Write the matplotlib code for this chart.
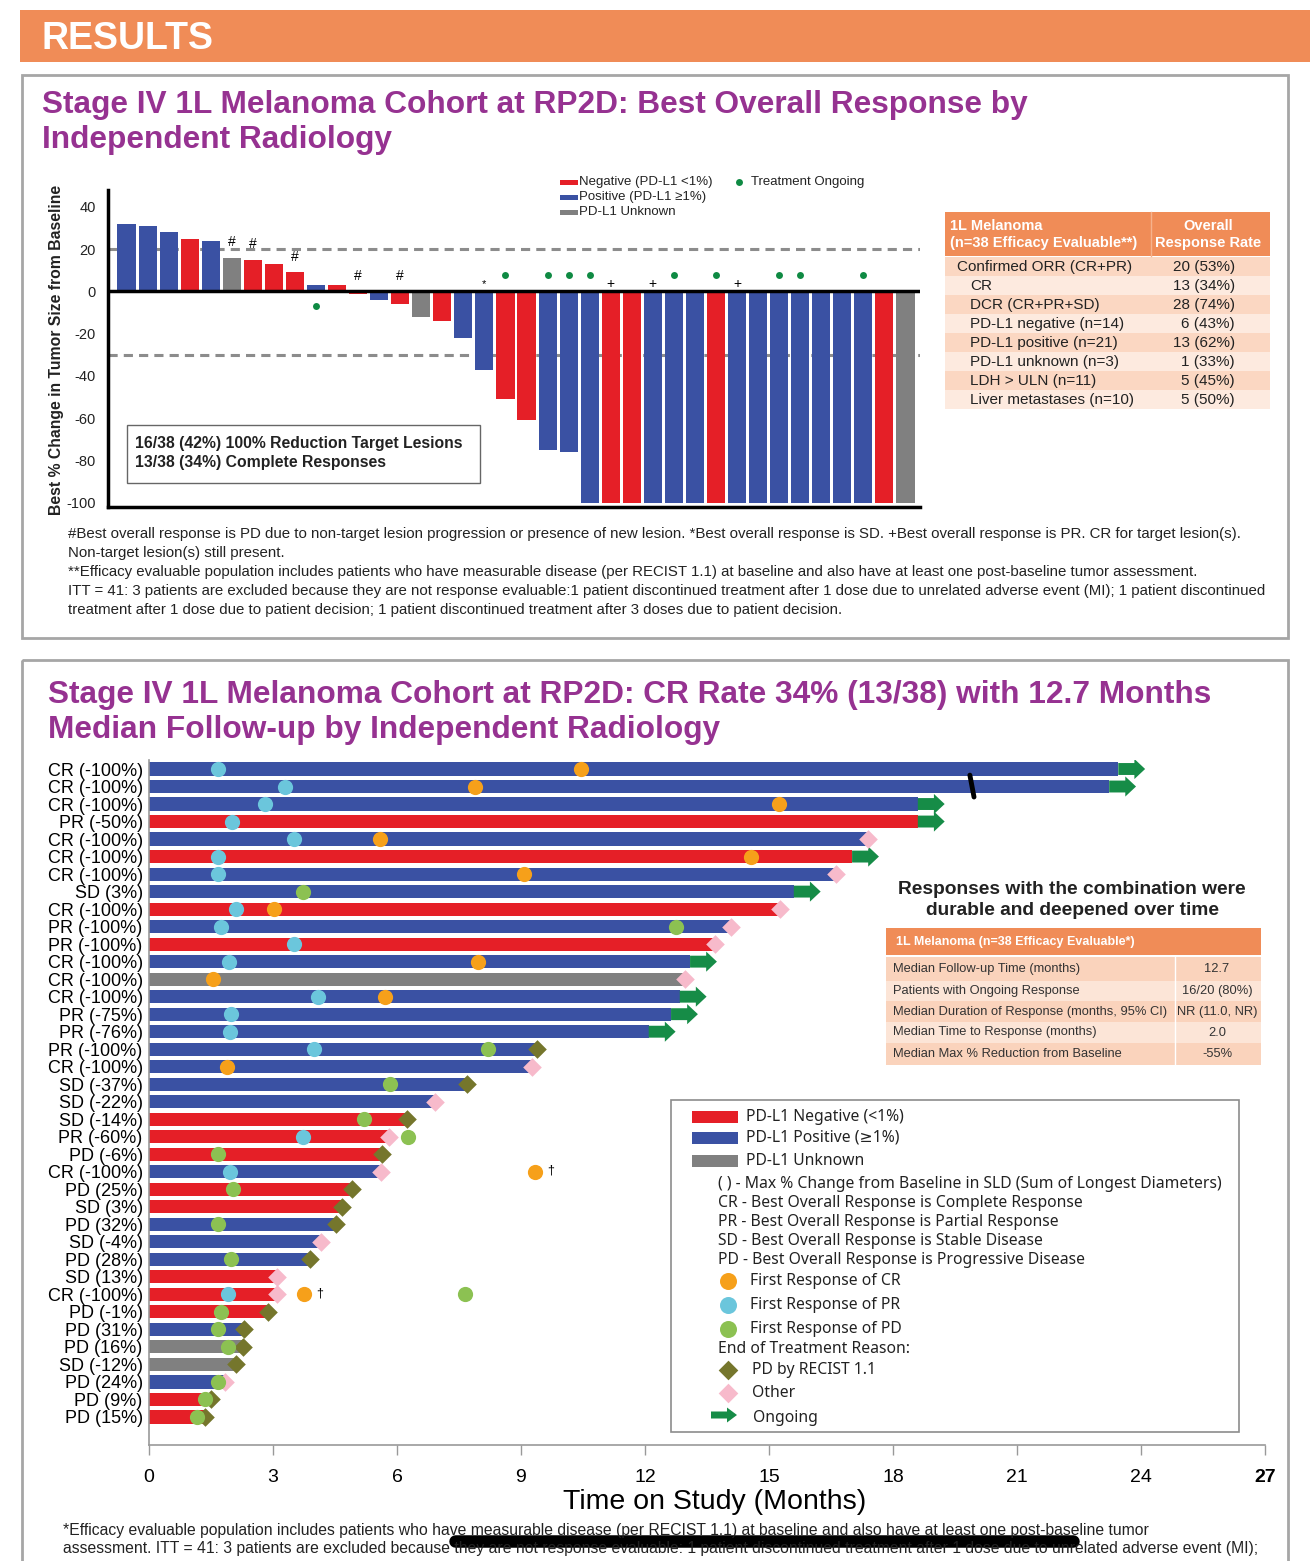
import matplotlib
matplotlib.use('Agg')
import matplotlib.pyplot as plt
from matplotlib.patches import Rectangle, FancyArrow
import numpy as np

W, H = 1310, 1561
plt.rcParams['font.family'] = ['Liberation Sans', 'DejaVu Sans']
plt.rcParams['axes.unicode_minus'] = False

RED = '#E51F27'
BLUE = '#3A51A3'
GRAY = '#808080'
ORANGE = '#F08C57'
PURPLE = '#963291'
CR_C = '#F6A01A'
PR_C = '#6BC6DC'
PD_C = '#8CC152'
OLIVE = '#75762C'
PINK = '#F7BACB'
ARROW_G = '#168C47'
DOT_G = '#0F8A43'
PDL1_COLORS = {'N': RED, 'P': BLUE, 'U': GRAY}

# ---------------- waterfall data ----------------
wf_change = [32, 31, 28, 25, 24, 16, 15, 13, 9, 3, 3, -1, -4, -6, -12, -14, -22,
             -37, -51, -61, -75, -76, -100, -100, -100, -100, -100, -100, -100,
             -100, -100, -100, -100, -100, -100, -100, -100, -100]
wf_pdl1 = ['P', 'P', 'P', 'N', 'P', 'U', 'N', 'N', 'N', 'P', 'N', 'N', 'P', 'N',
           'U', 'N', 'P', 'P', 'N', 'N', 'P', 'P', 'P', 'N', 'N', 'P', 'P', 'P',
           'N', 'P', 'P', 'P', 'P', 'P', 'P', 'P', 'N', 'U']
wf_hash = [5, 6, 8, 11, 13]
wf_star = [17]
wf_plus = [23, 25, 29]
wf_ongoing = [9, 18, 20, 21, 22, 26, 28, 31, 32, 35]

tbl1_rows = ['Confirmed ORR (CR+PR)', 'CR', 'DCR (CR+PR+SD)', 'PD-L1 negative (n=14)',
             'PD-L1 positive (n=21)', 'PD-L1 unknown (n=3)', 'LDH > ULN (n=11)',
             'Liver metastases (n=10)']
tbl1_vals = ['20 (53%)', '13 (34%)', '28 (74%)', '6 (43%)', '13 (62%)', '1 (33%)',
             '5 (45%)', '5 (50%)']

# ---------------- swimmer data ----------------
sw_labels = ['CR (-100%)', 'CR (-100%)', 'CR (-100%)', 'PR (-50%)', 'CR (-100%)',
             'CR (-100%)', 'CR (-100%)', 'SD (3%)', 'CR (-100%)', 'PR (-100%)',
             'PR (-100%)', 'CR (-100%)', 'CR (-100%)', 'CR (-100%)', 'PR (-75%)',
             'PR (-76%)', 'PR (-100%)', 'CR (-100%)', 'SD (-37%)', 'SD (-22%)',
             'SD (-14%)', 'PR (-60%)', 'PD (-6%)', 'CR (-100%)', 'PD (25%)',
             'SD (3%)', 'PD (32%)', 'SD (-4%)', 'PD (28%)', 'SD (13%)',
             'CR (-100%)', 'PD (-1%)', 'PD (31%)', 'PD (16%)', 'SD (-12%)',
             'PD (24%)', 'PD (9%)', 'PD (15%)']
sw_pdl1 = ['P', 'P', 'P', 'N', 'P', 'N', 'P', 'P', 'N', 'P', 'N', 'P', 'U', 'P',
           'P', 'P', 'P', 'P', 'P', 'P', 'N', 'N', 'N', 'P', 'N', 'N', 'P', 'P',
           'P', 'N', 'N', 'N', 'P', 'U', 'U', 'P', 'N', 'N']
sw_months = [23.45, 23.23, 18.6, 18.6, 17.4, 17.01, 16.63, 15.6, 15.27, 14.09,
             13.7, 13.09, 12.97, 12.84, 12.63, 12.09, 9.39, 9.26, 7.7, 6.91, 6.24,
             5.8, 5.64, 5.62, 4.92, 4.66, 4.52, 4.16, 3.9, 3.1, 3.1, 2.89, 2.3,
             2.28, 2.1, 1.85, 1.5, 1.35]
# A = ongoing, P = PD by RECIST 1.1, O = other
sw_end = ['A', 'A', 'A', 'A', 'O', 'A', 'O', 'A', 'O', 'O', 'O', 'A', 'O', 'A',
          'A', 'A', 'P', 'O', 'P', 'O', 'P', 'O', 'P', 'O', 'P', 'P', 'P', 'O',
          'P', 'O', 'O', 'P', 'P', 'P', 'P', 'O', 'P', 'P']
# first responses (row number, month)
first_cr = [(1, 10.45), (2, 7.88), (3, 15.25), (5, 5.59), (6, 14.56), (7, 9.07),
            (9, 3.02), (12, 7.95), (13, 1.55), (14, 5.7), (18, 1.88), (24, 9.33),
            (31, 3.75)]
first_pr = [(1, 1.68), (2, 3.28), (3, 2.81), (4, 2.0), (5, 3.52), (6, 1.68),
            (7, 1.66), (9, 2.1), (10, 1.74), (11, 3.52), (12, 1.93), (14, 4.1),
            (15, 1.99), (16, 1.95), (17, 3.99), (22, 3.73), (24, 1.95), (31, 1.91)]
first_pd = [(8, 3.73), (10, 12.74), (17, 8.2), (19, 5.83), (21, 5.21), (22, 6.26),
            (23, 1.66), (25, 2.04), (27, 1.66), (29, 1.99), (31, 7.65), (32, 1.74),
            (33, 1.66), (34, 1.91), (36, 1.66), (37, 1.36), (38, 1.16)]
dagger_rows = [24, 31]
x_ticks = list(range(0, 28, 3))

tbl2_rows = ['Median Follow-up Time (months)', 'Patients with Ongoing Response',
             'Median Duration of Response (months, 95% CI)',
             'Median Time to Response (months)', 'Median Max % Reduction from Baseline']
tbl2_vals = ['12.7', '16/20 (80%)', 'NR (11.0, NR)', '2.0', '-55%']

foot1 = ['#Best overall response is PD due to non-target lesion progression or presence of new lesion. '
         '*Best overall response is SD. +Best overall response is PR. CR for target lesion(s).',
         'Non-target lesion(s) still present.',
         '**Efficacy evaluable population includes patients who have measurable disease (per RECIST 1.1) '
         'at baseline and also have at least one post-baseline tumor assessment.',
         'ITT = 41: 3 patients are excluded because they are not response evaluable:1 patient discontinued '
         'treatment after 1 dose due to unrelated adverse event (MI); 1 patient discontinued',
         'treatment after 1 dose due to patient decision; 1 patient discontinued treatment after 3 doses '
         'due to patient decision.']
foot2 = ['*Efficacy evaluable population includes patients who have measurable disease (per RECIST 1.1) '
         'at baseline and also have at least one post-baseline tumor',
         'assessment. ITT = 41: 3 patients are excluded because they are not response evaluable: 1 patient '
         'discontinued treatment after 1 dose due to unrelated adverse event (MI);']

fig = plt.figure(figsize=(W / 100, H / 100), dpi=100)


def px_axes(l, t, r, b):
    return fig.add_axes([l / W, 1 - b / H, (r - l) / W, (b - t) / H])


# ---------------- waterfall ----------------
ax1 = px_axes(108, 190, 920, 507)
ax1.set_facecolor('none')
xi = np.arange(len(wf_change))
ax1.bar(xi, wf_change, width=0.86, color=[PDL1_COLORS[s] for s in wf_pdl1], zorder=2)
ax1.set_xlim(-0.5 - 8 / 21.05, 37.5 + 4 / 21.05)
ax1.set_ylim(-102, 48)
ax1.axhline(0, color='black', lw=2.5, zorder=3)
for yv in (20, -30):
    ax1.axhline(yv, color='#8c8c8c', lw=2.2, ls=(0, (3, 2)), zorder=1)
for sp in ('top', 'right'):
    ax1.spines[sp].set_visible(False)
for sp in ('left', 'bottom'):
    ax1.spines[sp].set_linewidth(2.5)
ax1.set_xticks([])
ax1.set_yticks(range(-100, 41, 20))
ax1.tick_params(axis='y', length=0, pad=9, labelsize=10.5, labelcolor='#222222')
for i in wf_hash:
    ax1.text(i, max(wf_change[i], 0) + 4, '#', ha='center', va='bottom', fontsize=10)
for i in wf_star:
    ax1.text(i, 3.5, '*', ha='center', va='center', fontsize=8)
for i in wf_plus:
    ax1.text(i, 3.5, '+', ha='center', va='center', fontsize=10)
ax1.scatter(wf_ongoing, [8 if wf_change[i] < 0 else -7 for i in wf_ongoing],
            s=25, color=DOT_G, zorder=4, linewidths=0)

# ---------------- swimmer ----------------
ax2 = px_axes(149, 760, 1265, 1445)
ax2.set_facecolor('none')
rows = np.arange(len(sw_labels))
ax2.barh(rows, sw_months, height=0.75, color=[PDL1_COLORS[s] for s in sw_pdl1], zorder=2)
for r, (m, e) in enumerate(zip(sw_months, sw_end)):
    if e == 'A':
        ax2.add_patch(FancyArrow(m, r, 0.65, 0, width=0.68, head_width=1.15,
                                 head_length=0.26, length_includes_head=True,
                                 color=ARROW_G, lw=0, zorder=3))
pd_rows = [r for r, e in enumerate(sw_end) if e == 'P']
ot_rows = [r for r, e in enumerate(sw_end) if e == 'O']
ax2.scatter([sw_months[r] for r in pd_rows], pd_rows, marker='D', s=90, color=OLIVE,
            linewidths=0, zorder=4)
ax2.scatter([sw_months[r] for r in ot_rows], ot_rows, marker='D', s=90, color=PINK,
            linewidths=0, zorder=4)
for pts, c in ((first_cr, CR_C), (first_pr, PR_C), (first_pd, PD_C)):
    ax2.scatter([p[1] for p in pts], [p[0] - 1 for p in pts], s=120, color=c,
                linewidths=0, zorder=5)
for r in dagger_rows:
    m = [p[1] for p in first_cr if p[0] == r][0]
    ax2.text(m + 0.3, r - 1.05, '\u2020', fontsize=9, va='center', ha='left')
ax2.plot([19.86, 19.96], [0.35, 1.6], color='black', lw=3.5, solid_capstyle='round', zorder=6)
ax2.set_xlim(0, 27)
ax2.set_ylim(38.6, -0.514)
ax2.set_yticks(rows)
ax2.set_yticklabels(sw_labels, fontsize=13)
ax2.set_xticks(x_ticks)
ax2.set_xticklabels([str(t) for t in x_ticks], fontsize=14)
ax2.get_xticklabels()[-1].set_fontweight('bold')
ax2.tick_params(axis='y', length=0, pad=4.5)
ax2.tick_params(axis='x', length=7, width=1, color='#999999', pad=10)
for sp in ('top', 'right'):
    ax2.spines[sp].set_visible(False)
for sp in ('left', 'bottom'):
    ax2.spines[sp].set_color('#999999')
    ax2.spines[sp].set_linewidth(1.2)

# ---------------- overlay (layout in pixels) ----------------
ov = fig.add_axes([0, 0, 1, 1])
ov.set_xlim(0, W)
ov.set_ylim(H, 0)
ov.axis('off')

ov.add_patch(Rectangle((20, 10), 1290, 52, color=ORANGE, lw=0))
ov.text(42, 39, 'RESULTS', color='white', fontsize=27, fontweight='bold', va='center')
ov.add_patch(Rectangle((22, 75), 1266, 563, fill=False, ec='#A6A6A6', lw=2))
ov.add_patch(Rectangle((22, 660), 1266, 920, fill=False, ec='#A6A6A6', lw=2))

TF = 22.8
ov.text(42, 105, 'Stage IV 1L Melanoma Cohort at RP2D: Best Overall Response by',
        color=PURPLE, fontsize=TF, fontweight='bold', va='center')
ov.text(42, 140, 'Independent Radiology', color=PURPLE, fontsize=TF,
        fontweight='bold', va='center')
ov.text(48, 695, 'Stage IV 1L Melanoma Cohort at RP2D: CR Rate 34% (13/38) with 12.7 Months',
        color=PURPLE, fontsize=TF, fontweight='bold', va='center')
ov.text(48, 730, 'Median Follow-up by Independent Radiology', color=PURPLE,
        fontsize=TF, fontweight='bold', va='center')

# waterfall y label / box / legend
ov.text(57, 350, 'Best % Change in Tumor Size from Baseline', rotation=90,
        fontsize=11.3, fontweight='bold', ha='center', va='center', color='#222222')
ov.add_patch(Rectangle((127, 425), 353, 58, fc='white', ec='#666666', lw=1))
ov.text(135, 443, '16/38 (42%) 100% Reduction Target Lesions', fontsize=11.3,
        fontweight='bold', va='center', color='#222222')
ov.text(135, 462, '13/38 (34%) Complete Responses', fontsize=11.3,
        fontweight='bold', va='center', color='#222222')
for yy, c, t in ((182, RED, 'Negative (PD-L1 <1%)'), (197, BLUE, 'Positive (PD-L1 \u22651%)'),
                 (212, GRAY, 'PD-L1 Unknown')):
    ov.add_patch(Rectangle((560, yy - 2.5), 18, 5, color=c, lw=0))
    ov.text(579, yy, t, fontsize=9.5, va='center', color='#222222')
ov.scatter([739], [182], s=25, color=DOT_G, linewidths=0)
ov.text(751, 182, 'Treatment Ongoing', fontsize=9.5, va='center', color='#222222')

# table 1
ov.add_patch(Rectangle((945, 212), 325, 44, color=ORANGE, lw=0))
ov.plot([1151, 1151], [212, 256], color='#F6B28C', lw=1)
ov.text(950, 226, '1L Melanoma', color='white', fontsize=10.5, fontweight='bold', va='center')
ov.text(950, 243, '(n=38 Efficacy Evaluable**)', color='white', fontsize=10.5,
        fontweight='bold', va='center')
ov.text(1208, 226, 'Overall', color='white', fontsize=10.5, fontweight='bold',
        va='center', ha='center')
ov.text(1208, 243, 'Response Rate', color='white', fontsize=10.5, fontweight='bold',
        va='center', ha='center')
for k, (lab, val) in enumerate(zip(tbl1_rows, tbl1_vals)):
    top = 257 + k * 19
    ov.add_patch(Rectangle((945, top), 325, 19, color='#FBD7C2' if k % 2 == 0 else '#FDEADF', lw=0))
    ov.text(957 if k == 0 else 970, top + 10, lab, fontsize=11, va='center', color='#222222')
    ov.text(1235, top + 10, val, fontsize=11, va='center', ha='right', color='#222222')

for k, line in enumerate(foot1):
    ov.text(68, 534 + k * 19, line, fontsize=10.85, va='center', color='#222222')

# swimmer annotations / table 2
ov.text(1072, 889, 'Responses with the combination were', fontsize=13.8,
        fontweight='bold', ha='center', va='center', color='#222222')
ov.text(1072, 910, 'durable and deepened over time', fontsize=13.8,
        fontweight='bold', ha='center', va='center', color='#222222')
ov.add_patch(Rectangle((886, 928), 375, 27, color=ORANGE, lw=0))
ov.text(896, 942, '1L Melanoma (n=38 Efficacy Evaluable*)', color='white', fontsize=9,
        fontweight='bold', va='center')
row_edges = [957, 981, 1001, 1022, 1043, 1065]
for k, (lab, val) in enumerate(zip(tbl2_rows, tbl2_vals)):
    t, b = row_edges[k], row_edges[k + 1]
    ov.add_patch(Rectangle((886, t), 375, b - t, color='#FAD3BC' if k % 2 == 0 else '#FCE5D7', lw=0))
    ov.text(893, (t + b) / 2, lab, fontsize=9.3, va='center', color='#333333')
    ov.text(1217, (t + b) / 2, val, fontsize=9.3, va='center', ha='center', color='#333333')
ov.plot([1175, 1175], [957, 1065], color='white', lw=1)

# legend box
LF = ['Noto Sans', 'DejaVu Sans']
LS = 11.3
ov.add_patch(Rectangle((671, 1100), 568, 332, fc='white', ec='#8c8c8c', lw=1.2))
for yy, c, t in ((1117, RED, 'PD-L1 Negative (<1%)'), (1138, BLUE, 'PD-L1 Positive (\u22651%)'),
                 (1161, GRAY, 'PD-L1 Unknown')):
    ov.add_patch(Rectangle((692, yy - 6), 46, 12, color=c, lw=0))
    ov.text(746, yy, t, fontsize=LS, va='center', family=LF, color='#222222')
for k, t in enumerate(['( ) - Max % Change from Baseline in SLD (Sum of Longest Diameters)',
                       'CR - Best Overall Response is Complete Response',
                       'PR - Best Overall Response is Partial Response',
                       'SD - Best Overall Response is Stable Disease',
                       'PD - Best Overall Response is Progressive Disease']):
    ov.text(718, 1184 + k * 19, t, fontsize=LS, va='center', family=LF, color='#222222')
for yy, c, t in ((1281, CR_C, 'First Response of CR'), (1305, PR_C, 'First Response of PR'),
                 (1329, PD_C, 'First Response of PD')):
    ov.scatter([728], [yy], s=150, color=c, linewidths=0)
    ov.text(750, yy, t, fontsize=LS, va='center', family=LF, color='#222222')
ov.text(718, 1349, 'End of Treatment Reason:', fontsize=LS, va='center', family=LF, color='#222222')
for yy, c, t in ((1370, OLIVE, 'PD by RECIST 1.1'), (1393, PINK, 'Other')):
    ov.scatter([728], [yy], s=100, marker='D', color=c, linewidths=0)
    ov.text(752, yy, t, fontsize=LS, va='center', family=LF, color='#222222')
ov.add_patch(FancyArrow(711, 1415, 26, 0, width=7, head_width=15, head_length=10,
                        length_includes_head=True, color=ARROW_G, lw=0))
ov.text(753, 1418, 'Ongoing', fontsize=LS, va='center', family=LF, color='#222222')

ov.text(715, 1502, 'Time on Study (Months)', fontsize=20.5, ha='center', va='center')
for k, line in enumerate(foot2):
    ov.text(63, 1530 + k * 19, line, fontsize=11.3, va='center', color='#222222')
ov.plot([455, 1073], [1541, 1541], color='black', lw=9, solid_capstyle='round')

fig.savefig('out.png', dpi=100)
